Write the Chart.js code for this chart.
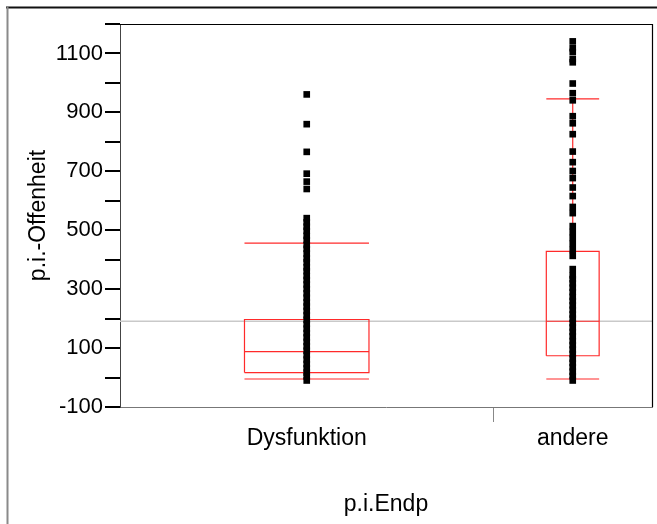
<!DOCTYPE html>
<html>
<head>
<meta charset="utf-8">
<script src="https://cdn.jsdelivr.net/npm/chart.js@4/dist/chart.umd.min.js"></script>
<style>
  html, body { margin: 0; padding: 0; background: #ffffff; }
  #wrap { position: relative; width: 657px; height: 524px; }
</style>
</head>
<body>
<div id="wrap"><canvas id="c" width="657" height="524"></canvas></div>
<script>
// ---- data ----
const categories = ['Dysfunktion', 'andere'];
const groupCounts = [351, 149];            // relative group sizes (category widths)
const q1Values = [17, 74];
const medianValues = [88, 191];
const q3Values = [197, 428];
const lowerWhisker = [-5, -5];
const upperWhisker = [456, 946];
const grandMean = 191;
const dysfunktionValues = [961, 860, 766, 692, 665, 640, 541, 527, 512, 498, 481, 467, 450, 437, 421, 404, 391, 374,
  361, 345, 331, 316, 301, 286, 271, 255, 241, 226, 211, 196, 181, 166, 151, 136, 121, 106, 91, 76, 61, 46, 31, 17, 4, -10];
const andereValues = [1141, 1118, 1105, 1081, 1070, 998, 965, 941, 887, 863, 826, 767, 731, 701, 677, 645, 616, 579, 558,
  514, 494, 474, 454, 433, 413, 368, 347, 334, 320, 305, 290, 274, 260, 245, 230, 214, 200, 185, 170, 155, 140, 124,
  110, 95, 80, 64, 50, 35, 20, 5, -10];
const yTickLabels = [-100, 100, 300, 500, 700, 900, 1100];

// ---- derived category geometry (value space 0..1) ----
const total = groupCounts.reduce((a, b) => a + b, 0);
const starts = [], ends = [], centers = [];
let acc = 0;
groupCounts.forEach(n => { starts.push(acc / total); acc += n; ends.push(acc / total); });
starts.forEach((s, i) => centers.push((s + ends[i]) / 2));
const divider = ends[0];
const seriesValues = [dysfunktionValues, andereValues];

const RED = '#ff2a2a';
const datasets = [];
// grand mean line
datasets.push({ type: 'line', data: [{x: 0, y: grandMean}, {x: 1, y: grandMean}], borderColor: '#c9c9c9',
  borderWidth: 1.5, pointRadius: 0, order: 5 });
// box plots
categories.forEach((c, i) => {
  const w = (ends[i] - starts[i]) / 3;
  const x0 = centers[i] - w / 2, x1 = centers[i] + w / 2, xc = centers[i];
  const segs = [
    [[x0, q1Values[i]], [x1, q1Values[i]], [x1, q3Values[i]], [x0, q3Values[i]], [x0, q1Values[i]]],
    [[x0, medianValues[i]], [x1, medianValues[i]]],
    [[x0, upperWhisker[i]], [x1, upperWhisker[i]]],
    [[x0, lowerWhisker[i]], [x1, lowerWhisker[i]]],
    [[xc, q3Values[i]], [xc, upperWhisker[i]]],
    [[xc, q1Values[i]], [xc, lowerWhisker[i]]]
  ];
  segs.forEach(s => datasets.push({ type: 'line', data: s.map(p => ({x: p[0], y: p[1]})), borderColor: RED,
    borderWidth: 1.2, pointRadius: 0, tension: 0, order: 3 }));
});
// points
categories.forEach((c, i) => {
  datasets.push({ type: 'scatter', data: seriesValues[i].map(v => ({x: centers[i], y: v})), pointStyle: 'rect',
    pointRadius: 4.7, backgroundColor: '#000000', borderWidth: 0, order: 1 });
});

const frame = {
  id: 'frame',
  beforeDraw(chart) {
    const ctx = chart.ctx;
    ctx.save();
    ctx.fillStyle = '#fff';
    ctx.fillRect(0, 0, chart.width, chart.height);
    ctx.lineWidth = 2;
    ctx.strokeStyle = '#111';
    ctx.beginPath(); ctx.moveTo(6, 7.5); ctx.lineTo(chart.width, 7.5); ctx.stroke();
    ctx.strokeStyle = '#8a8a8a';
    ctx.beginPath(); ctx.moveTo(7.5, 7); ctx.lineTo(7.5, chart.height); ctx.stroke();
    ctx.restore();
  },
  afterDraw(chart) {
    const a = chart.chartArea, ctx = chart.ctx;
    ctx.save();
    ctx.lineWidth = 1.2;
    ctx.strokeStyle = '#000';
    ctx.beginPath();
    ctx.moveTo(a.left, a.top + 0.5); ctx.lineTo(a.right + 0.5, a.top + 0.5); ctx.lineTo(a.right + 0.5, a.bottom);
    ctx.stroke();
    ctx.restore();
  }
};

const FONT = 'Liberation Sans';
new Chart(document.getElementById('c'), {
  data: { datasets },
  plugins: [frame],
  options: {
    responsive: false,
    animation: false,
    layout: { padding: { left: 0, top: 24, right: 5, bottom: 0 } },
    plugins: { legend: { display: false }, tooltip: { enabled: false } },
    scales: {
      x: {
        type: 'linear', min: 0, max: 1,
        afterFit(scale) { scale.height = 117; },
        afterBuildTicks(scale) { scale.ticks = [{value: centers[0]}, {value: divider}, {value: centers[1]}]; },
        ticks: {
          autoSkip: false, maxRotation: 0, padding: 3, color: '#000',
          font: { family: FONT, size: 23 },
          callback(v) { const k = centers.indexOf(v); return k >= 0 ? categories[k] : ''; }
        },
        grid: { drawOnChartArea: false, drawTicks: true, tickLength: 15, lineWidth: 1,
          color: (ctx) => (ctx.tick && ctx.tick.value === divider) ? '#888' : 'rgba(0,0,0,0)' },
        border: { display: true, color: '#777', width: 1 },
        title: { display: true, text: 'p.i.Endp', color: '#000', font: { family: FONT, size: 23 },
          padding: { top: 0, bottom: 6 } }
      },
      y: {
        type: 'linear', min: -100, max: 1200,
        afterFit(scale) { scale.width = 120; },
        ticks: {
          stepSize: 100, autoSkip: false, padding: 2, color: '#000',
          font: { family: FONT, size: 22 },
          callback(v) { return yTickLabels.includes(v) ? String(v) : ''; }
        },
        grid: { drawOnChartArea: false, drawTicks: true, tickLength: 15, lineWidth: 2, color: '#000' },
        border: { display: true, color: '#444', width: 1 },
        title: { display: true, text: 'p.i.-Offenheit', color: '#000', font: { family: FONT, size: 23 },
          padding: { top: 25, bottom: 0 } }
      }
    }
  }
});
</script>
</body>
</html>
